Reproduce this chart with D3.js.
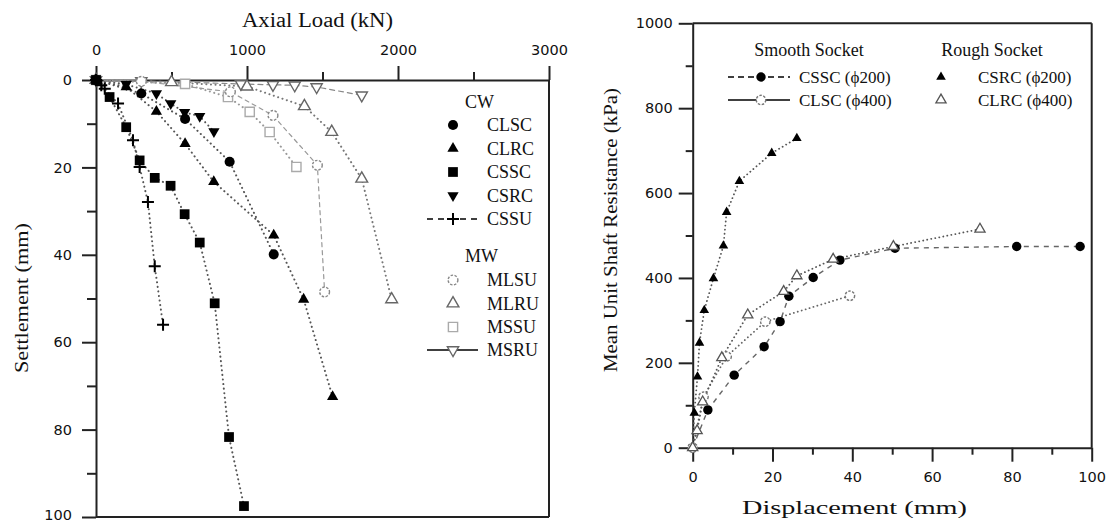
<!DOCTYPE html>
<html><head><meta charset="utf-8">
<script src="https://cdn.jsdelivr.net/npm/d3@7"></script>
<style>body{margin:0;background:#fff}svg{display:block}</style>
</head><body>
<svg id="c" width="1110" height="524"></svg>
<script>
// ---------- Left chart: [axial load (kN), settlement (mm)] ----------
const clsc = [[0,0],[300,3.1],[590,8.9],[885,18.7],[1177,39.9]];
const clrc = [[0,0],[200,1.6],[400,7.2],[590,14.6],[780,23.3],[1177,35.5],[1375,50.2],[1567,72.5]];
const cssc = [[0,0],[90,3.9],[200,10.8],[289,18.4],[389,22.4],[494,24.2],[587,30.7],[687,37.2],[786,51.1],[881,81.7],[980,97.5]];
const csrc = [[0,0],[200,1.0],[400,3.1],[495,5.4],[587,7.4],[687,8.3],[781,11.8]];
const cssu = [[0,0],[35,1.2],[58,2.0],[146,5.4],[245,13.8],[289,19.9],[344,27.9],[389,42.6],[444,56]];
const mlsu = [[0,0],[300,0.3],[890,2.7],[1172,8.1],[1466,19.5],[1514,48.5]];
const mlru = [[0,0],[500,0.5],[1000,1.5],[1380,6.0],[1561,11.9],[1760,22.6],[1958,50.2]];
const mssu = [[0,0],[590,0.9],[874,3.9],[1018,7.3],[1150,11.9],[1327,19.9]];
const msru = [[0,0],[300,0.2],[960,0.9],[1172,1.1],[1316,1.2],[1461,1.6],[1760,3.5]];
const loadTicks = [0,1000,2000,3000];
const loadMinor = [500,1500,2500];
const settleTicks = [0,20,40,60,80,100];
const settleMinor = [10,30,50,70,90];

// ---------- Right chart: [displacement (mm), mean unit shaft resistance (kPa)] ----------
const csscR = [[0,0],[3.8,89],[10.4,171],[17.9,238],[21.9,297],[24.1,357],[30.2,401],[36.9,442],[50.7,470],[81.2,474],[97.1,474]];
const clscR = [[0,0],[2.7,120],[8.5,215],[18.2,297],[39.4,358]];
const csrcR = [[0,0],[0.4,82],[1.2,167],[1.7,247],[2.9,324],[5.2,399],[7.7,476],[8.5,555],[11.7,628],[19.8,694],[26.1,729]];
const clrcR = [[0,0],[1.1,40],[2.5,108],[7.3,212],[13.8,313],[22.8,368],[26.1,405],[35.2,444],[50.3,474],[72.0,515]];
const dispTicks = [0,20,40,60,80,100];
const dispMinor = [10,30,50,70,90];
const resTicks = [0,200,400,600,800,1000];
const resMinor = [100,300,500,700,900];

const SERIF = "'Liberation Serif', 'Times New Roman', serif";
const SANS = "'DejaVu Sans', sans-serif";
const svg = d3.select("#c");

function symPath(shape, size){
  const map = {circle:d3.symbolCircle, tri:d3.symbolTriangle, down:d3.symbolTriangle, square:d3.symbolSquare};
  return d3.symbol().type(map[shape]).size(size)();
}
function drawMarker(g, shape, x, y, st){
  if(shape === "plus"){
    g.append("path").attr("d","M-6,0H6M0,-6V6").attr("transform",`translate(${x},${y})`)
      .attr("stroke", st.stroke||"#000").attr("stroke-width",2).attr("fill","none");
    return;
  }
  g.append("path").attr("d", symPath(shape, st.size))
    .attr("transform", `translate(${x},${y})` + (shape==="down" ? " rotate(180)" : ""))
    .attr("fill", st.fill).attr("stroke", st.stroke||"none").attr("stroke-width", st.sw||0)
    .attr("stroke-dasharray", st.sdash||null);
}
function styleAxis(g){
  g.selectAll(".domain").attr("stroke","#222").attr("stroke-width",2);
  g.selectAll(".tick line").attr("stroke","#222").attr("stroke-width",2);
  g.selectAll("text").attr("font-family",SANS).attr("font-size",14.5).attr("fill","#111");
}
const fmt = d3.format("d");

// ================= LEFT CHART =================
const xL = d3.scaleLinear().domain([0,3000]).range([96,549]);
const yL = d3.scaleLinear().domain([0,100]).range([80,517]);
const gL = svg.append("g");

gL.append("line").attr("x1",xL(3000)).attr("x2",xL(3000)).attr("y1",yL(0)).attr("y2",yL(100)).attr("stroke","#222").attr("stroke-width",2);
gL.append("line").attr("x1",xL(0)).attr("x2",xL(3000)).attr("y1",yL(100)).attr("y2",yL(100)).attr("stroke","#222").attr("stroke-width",2);

const axT = gL.append("g").attr("transform",`translate(0,${yL(0)})`)
  .call(d3.axisTop(xL).tickValues(loadTicks).tickSize(14).tickSizeOuter(0).tickPadding(11).tickFormat(fmt));
styleAxis(axT);
const axTm = gL.append("g").attr("transform",`translate(0,${yL(0)})`)
  .call(d3.axisTop(xL).tickValues(loadMinor).tickSize(8).tickFormat(""));
axTm.select(".domain").remove(); styleAxis(axTm);
const axLft = gL.append("g").attr("transform",`translate(${xL(0)},0)`)
  .call(d3.axisLeft(yL).tickValues(settleTicks).tickSize(14).tickSizeOuter(0).tickPadding(10).tickFormat(fmt));
styleAxis(axLft);
axLft.selectAll(".tick text").filter(d=>d===100).attr("dy","0.2em");
const axLm = gL.append("g").attr("transform",`translate(${xL(0)},0)`)
  .call(d3.axisLeft(yL).tickValues(settleMinor).tickSize(9).tickFormat(""));
axLm.select(".domain").remove(); styleAxis(axLm);

gL.append("text").text("Axial Load (kN)").attr("x",242).attr("y",27)
  .attr("font-family",SERIF).attr("font-size",20).attr("textLength",151).attr("lengthAdjust","spacingAndGlyphs").attr("fill","#111");
gL.append("text").text("Settlement (mm)").attr("transform","translate(28,298) rotate(-90)")
  .attr("text-anchor","middle").attr("font-family",SERIF).attr("font-size",19)
  .attr("textLength",150).attr("lengthAdjust","spacingAndGlyphs").attr("fill","#111");

const leftSeries = [
  {name:"CLSC", data:clsc, shape:"circle", st:{fill:"#000",size:80}, line:"#555"},
  {name:"CLRC", data:clrc, shape:"tri", st:{fill:"#000",size:55}, line:"#555"},
  {name:"CSSC", data:cssc, shape:"square", st:{fill:"#000",size:95}, line:"#555"},
  {name:"CSRC", data:csrc, shape:"down", st:{fill:"#000",size:55}, line:"#555"},
  {name:"CSSU", data:cssu, shape:"plus", st:{stroke:"#000"}, line:"#555"},
  {name:"MLSU", data:mlsu, shape:"circle", st:{fill:"#fff",stroke:"#888",sw:1.4,sdash:"2.5,1.5",size:75}, line:"#999", dash:"4,4"},
  {name:"MLRU", data:mlru, shape:"tri", st:{fill:"#fff",stroke:"#666",sw:1.4,size:60}, line:"#777"},
  {name:"MSSU", data:mssu, shape:"square", st:{fill:"#fff",stroke:"#aaa",sw:1.4,size:85}, line:"#999"},
  {name:"MSRU", data:msru, shape:"down", st:{fill:"#fff",stroke:"#666",sw:1.4,size:55}, line:"#888", dash:"5,4"}
];
const lineL = d3.line().x(d=>xL(d[0])).y(d=>yL(d[1]));
leftSeries.forEach(s=>{
  gL.append("path").attr("d", lineL(s.data)).attr("fill","none").attr("stroke", s.line)
    .attr("stroke-width", s.dash ? 1.2 : 2).attr("stroke-linecap","round")
    .attr("stroke-dasharray", s.dash || "0.1,4.5");
});
leftSeries.slice().reverse().forEach(s=>{
  s.data.forEach(d=> drawMarker(gL, s.shape, xL(d[0]), yL(d[1]), s.st));
});

const legL = gL.append("g");
legL.append("text").text("CW").attr("x",465).attr("y",108).attr("font-family",SERIF).attr("font-size",18).attr("fill","#111");
legL.append("text").text("MW").attr("x",465).attr("y",262).attr("font-family",SERIF).attr("font-size",18).attr("fill","#111");
const legRowsY = [125,148.5,172,195.5,219,280,303.5,327,350];
leftSeries.forEach((s,i)=>{
  const y = legRowsY[i];
  if(s.name==="CSSU"){
    legL.append("line").attr("x1",427).attr("x2",478).attr("y1",y).attr("y2",y).attr("stroke","#000").attr("stroke-width",1.5).attr("stroke-dasharray","6,5");
  }
  if(s.name==="MSRU"){
    legL.append("line").attr("x1",427).attr("x2",478).attr("y1",y).attr("y2",y).attr("stroke","#000").attr("stroke-width",1.3);
  }
  drawMarker(legL, s.shape, 453, y, s.st);
  legL.append("text").text(s.name).attr("x",487).attr("y",y+6).attr("font-family",SERIF).attr("font-size",18).attr("fill","#111");
});

// ================= RIGHT CHART =================
const xR = d3.scaleLinear().domain([0,100]).range([692.7,1091.7]);
const yR = d3.scaleLinear().domain([0,1000]).range([447.7,23.3]);
const gR = svg.append("g");
gR.append("line").attr("x1",xR(0)).attr("x2",xR(100)).attr("y1",yR(1000)).attr("y2",yR(1000)).attr("stroke","#222").attr("stroke-width",2);
gR.append("line").attr("x1",xR(100)).attr("x2",xR(100)).attr("y1",yR(0)).attr("y2",yR(1000)).attr("stroke","#222").attr("stroke-width",2);

const axB = gR.append("g").attr("transform",`translate(0,${yR(0)})`)
  .call(d3.axisBottom(xR).tickValues(dispTicks).tickSize(14).tickSizeOuter(0).tickPadding(10).tickFormat(fmt));
styleAxis(axB);
const axBm = gR.append("g").attr("transform",`translate(0,${yR(0)})`)
  .call(d3.axisBottom(xR).tickValues(dispMinor).tickSize(7).tickFormat(""));
axBm.select(".domain").remove(); styleAxis(axBm);
const axRL = gR.append("g").attr("transform",`translate(${xR(0)},0)`)
  .call(d3.axisLeft(yR).tickValues(resTicks).tickSize(14).tickSizeOuter(0).tickPadding(6).tickFormat(fmt));
styleAxis(axRL);
const axRLm = gR.append("g").attr("transform",`translate(${xR(0)},0)`)
  .call(d3.axisLeft(yR).tickValues(resMinor).tickSize(7).tickFormat(""));
axRLm.select(".domain").remove(); styleAxis(axRLm);

gR.append("text").text("Displacement (mm)").attr("x",742).attr("y",514)
  .attr("font-family",SERIF).attr("font-size",18).attr("textLength",225).attr("lengthAdjust","spacingAndGlyphs").attr("fill","#111");
gR.append("text").text("Mean Unit Shaft Resistance (kPa)").attr("transform","translate(617,230) rotate(-90)")
  .attr("text-anchor","middle").attr("font-family",SERIF).attr("font-size",19)
  .attr("textLength",284).attr("lengthAdjust","spacingAndGlyphs").attr("fill","#111");

const rightSeries = [
  {name:"CSSC (ϕ200)", data:csscR, shape:"circle", st:{fill:"#000",size:70}, line:"#666", dash:"5,5", w:1.4, legLine:"dash"},
  {name:"CLSC (ϕ400)", data:clscR, shape:"circle", st:{fill:"#fff",stroke:"#777",sw:1.4,sdash:"2.5,1.5",size:70}, line:"#666", w:1.8, legLine:"solid"},
  {name:"CSRC (ϕ200)", data:csrcR, shape:"tri", st:{fill:"#000",size:40}, line:"#555", w:1.8},
  {name:"CLRC (ϕ400)", data:clrcR, shape:"tri", st:{fill:"#fff",stroke:"#555",sw:1.3,size:45}, line:"#555", w:1.8}
];
const lineR = d3.line().x(d=>xR(d[0])).y(d=>yR(d[1]));
rightSeries.forEach(s=>{
  gR.append("path").attr("d", lineR(s.data)).attr("fill","none").attr("stroke", s.line)
    .attr("stroke-width", s.w).attr("stroke-linecap", s.dash ? "butt" : "round")
    .attr("stroke-dasharray", s.dash || "0.1,4");
});
rightSeries.forEach(s=>{
  s.data.forEach(d=> drawMarker(gR, s.shape, xR(d[0]), yR(d[1]), s.st));
});

const legR = gR.append("g");
legR.append("text").text("Smooth Socket").attr("x",809).attr("y",56).attr("text-anchor","middle").attr("font-family",SERIF).attr("font-size",18).attr("fill","#111");
legR.append("text").text("Rough Socket").attr("x",992).attr("y",56).attr("text-anchor","middle").attr("font-family",SERIF).attr("font-size",18).attr("fill","#111");
const legRPos = [[761,77,799],[761,100,799],[941,77,978],[941,100,978]];
rightSeries.forEach((s,i)=>{
  const [mx,my,tx] = legRPos[i];
  if(s.legLine){
    legR.append("line").attr("x1",728).attr("x2",790).attr("y1",my).attr("y2",my).attr("stroke","#000").attr("stroke-width",1.5)
      .attr("stroke-dasharray", s.legLine==="dash" ? "6,4" : null);
  }
  drawMarker(legR, s.shape, mx, my, s.st);
  legR.append("text").text(s.name).attr("x",tx).attr("y",my+6).attr("font-family",SERIF).attr("font-size",17).attr("fill","#111");
});
</script>
</body></html>
